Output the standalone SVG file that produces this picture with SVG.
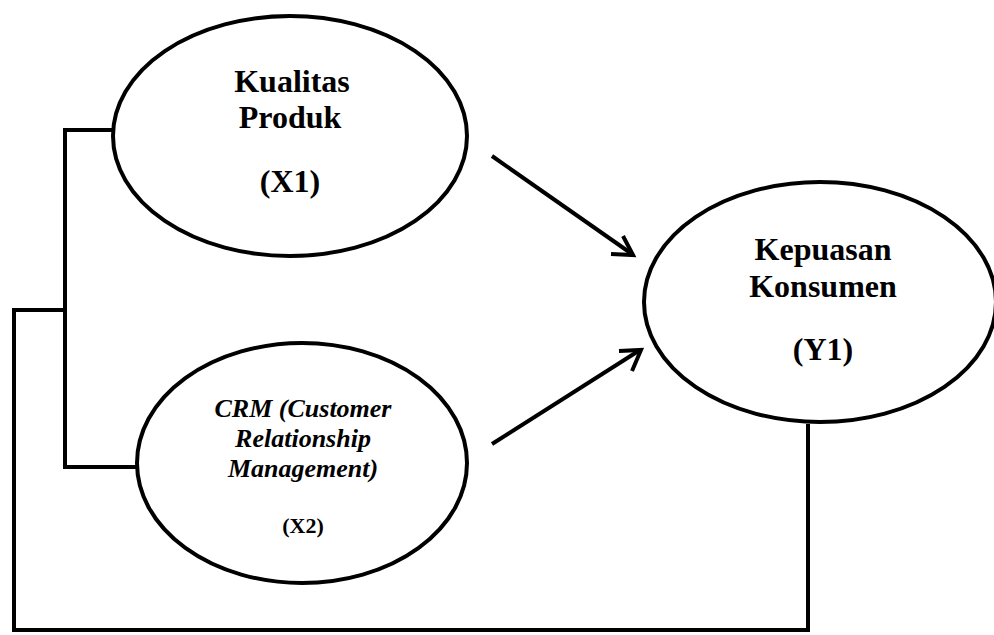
<svg xmlns="http://www.w3.org/2000/svg" width="994" height="635" viewBox="0 0 994 635">
<style>
.node{fill:#fff;stroke:#000;stroke-width:4}
.ln{fill:none;stroke:#000;stroke-width:4;stroke-linejoin:miter}
.t{font-family:"Liberation Serif","Times New Roman",serif;font-weight:bold;fill:#000;text-anchor:middle}
.i{font-style:italic}
</style>
<g id="connectors">
<polyline class="ln" points="113,130 65,130 65,467 138,467"/>
<polyline class="ln" points="65,310 14,310 14,632"/>
<polyline class="ln" points="12,630 808,630 808,424"/>
<line class="ln" x1="492" y1="156" x2="632" y2="254"/>
<polyline class="ln" points="623,236 633,255 611,254"/>
<line class="ln" x1="492" y1="444" x2="640" y2="350"/>
<polyline class="ln" points="619,351 641,350 632,371"/>
</g>
<g id="x1">
<ellipse class="node" cx="290" cy="136" rx="177" ry="120"/>
<text class="t" x="292" y="92" font-size="32">Kualitas</text>
<text class="t" x="290" y="128" font-size="32">Produk</text>
<text class="t" x="290" y="192" font-size="32">(X1)</text>
</g>
<g id="x2">
<ellipse class="node" cx="302" cy="463" rx="165" ry="120"/>
<text class="t i" x="303" y="417" font-size="26">CRM (Customer</text>
<text class="t i" x="303" y="447" font-size="26">Relationship</text>
<text class="t i" x="303" y="477" font-size="26">Management)</text>
<text class="t" x="303" y="533" font-size="22">(X2)</text>
</g>
<g id="y1">
<ellipse class="node" cx="820" cy="302" rx="176" ry="120"/>
<text class="t" x="823" y="260" font-size="32">Kepuasan</text>
<text class="t" x="823" y="297" font-size="32">Konsumen</text>
<text class="t" x="823" y="360" font-size="32">(Y1)</text>
</g>
</svg>
